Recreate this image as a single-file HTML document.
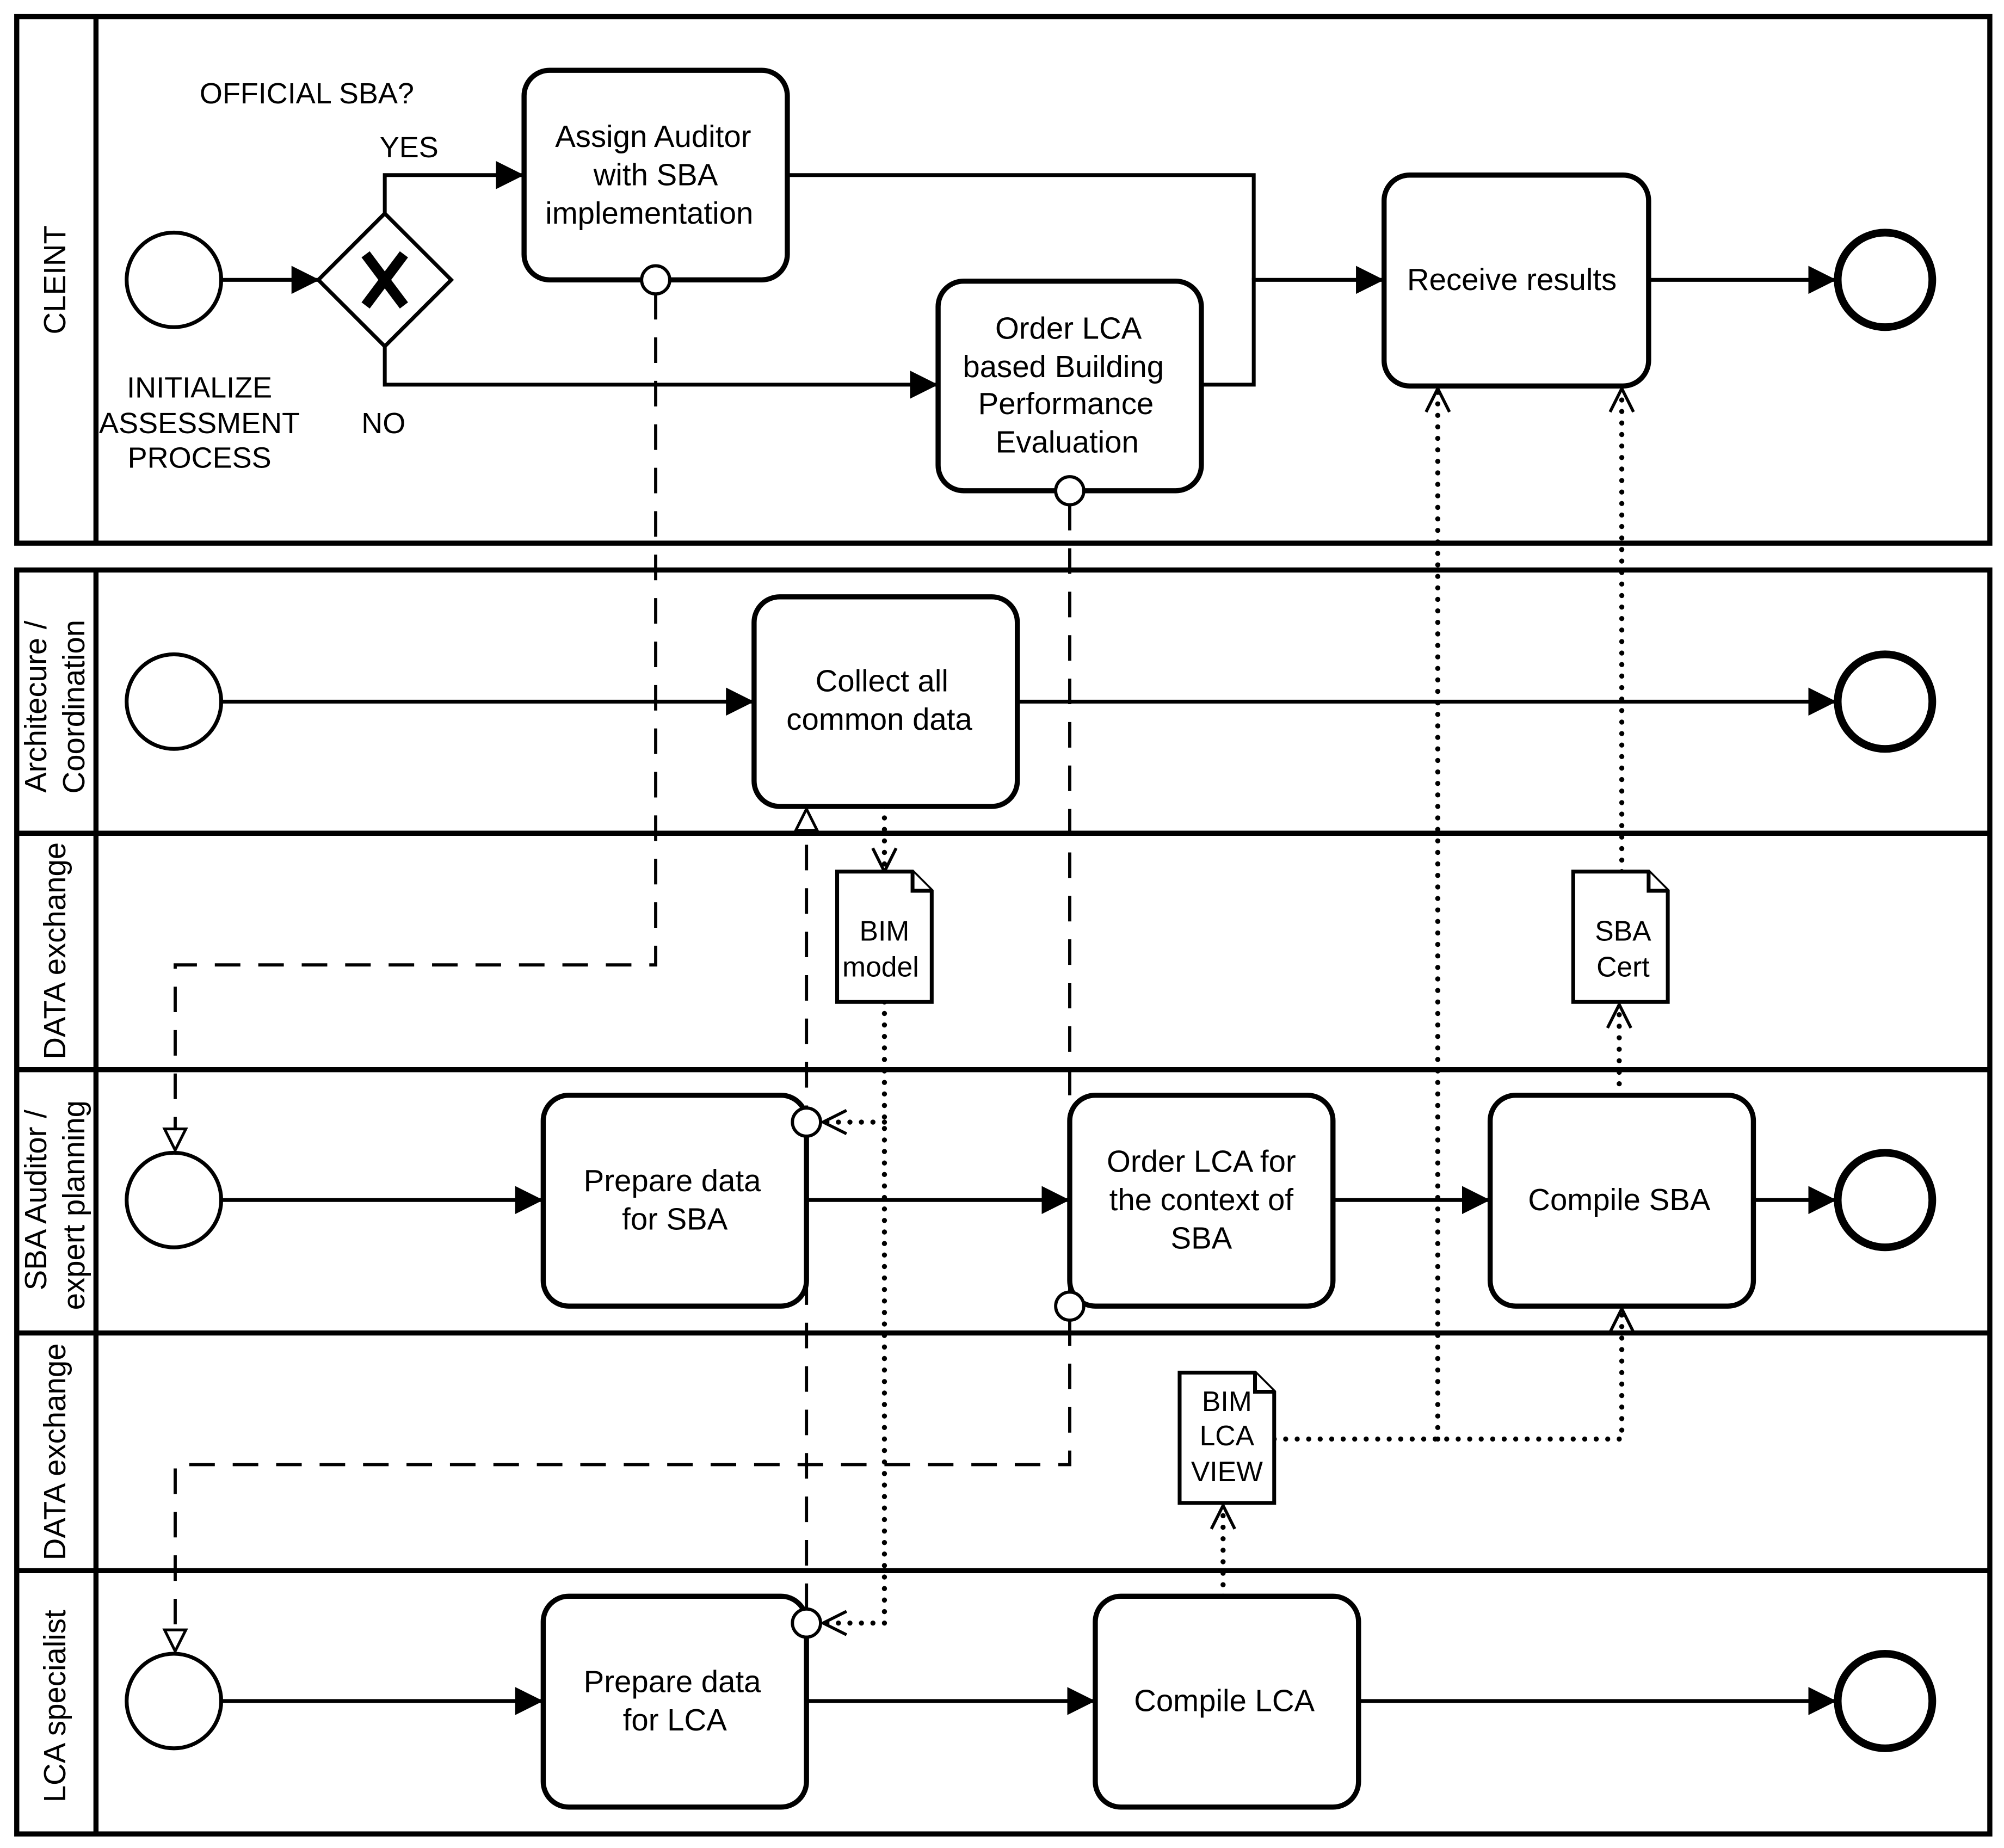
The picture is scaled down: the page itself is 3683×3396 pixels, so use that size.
<!DOCTYPE html>
<html><head><meta charset="utf-8"><style>html,body{margin:0;padding:0;background:#fff}svg{display:block}</style></head>
<body>
<svg width="3683" height="3396" viewBox="0 0 1568 1446" xmlns="http://www.w3.org/2000/svg" font-family="Liberation Sans, sans-serif">
<defs>
<marker id="f" viewBox="0 0 10 10" refX="10" refY="5" markerWidth="22" markerHeight="22" markerUnits="userSpaceOnUse" orient="auto"><path d="M0,0L10,5L0,10z" fill="#000"/></marker>
<marker id="v" viewBox="0 0 12 12" refX="11" refY="6" markerWidth="22" markerHeight="22" markerUnits="userSpaceOnUse" orient="auto"><path d="M1,1L11,6L1,11" fill="none" stroke="#000" stroke-width="1.3"/></marker>
<marker id="t" viewBox="0 0 12 12" refX="11" refY="6" markerWidth="20" markerHeight="20" markerUnits="userSpaceOnUse" orient="auto"><path d="M1,1L11,6L1,11z" fill="#fff" stroke="#000" stroke-width="1.3"/></marker>
</defs>
<g fill="none" stroke="#000">
<rect x="13" y="13" width="1544" height="412" stroke-width="4"/>
<line x1="75" y1="13" x2="75" y2="425" stroke-width="4"/>
<rect x="13" y="446" width="1544" height="989" stroke-width="4"/>
<line x1="75" y1="446" x2="75" y2="1435" stroke-width="4"/>
<g stroke-width="4"><line x1="13" y1="652" x2="1557" y2="652"/><line x1="13" y1="837" x2="1557" y2="837"/><line x1="13" y1="1043" x2="1557" y2="1043"/><line x1="13" y1="1229" x2="1557" y2="1229"/></g>

<g stroke-width="2.5" stroke-dasharray="20,14">
<path d="M513,230V755H137V900" marker-end="url(#t)"/>
<path d="M837,395V1011"/>
<path d="M837,1033V1146H137V1292" marker-end="url(#t)"/>
<path d="M631,1259V633" marker-end="url(#t)"/>
</g>
<g stroke-width="4" stroke-dasharray="0,9" stroke-linecap="round">
<path d="M692,631V682" marker-end="url(#v)"/>
<path d="M692,784V1270H644" marker-end="url(#v)"/>
<path d="M692,878H644" marker-end="url(#v)"/>
<path d="M1267,857V786" marker-end="url(#v)"/>
<path d="M1269,682V304" marker-end="url(#v)"/>
<path d="M997,1126H1269V1024" marker-end="url(#v)"/>
<path d="M1125,1126V304" marker-end="url(#v)"/>
<path d="M957,1249V1178" marker-end="url(#v)"/>
</g>

<g stroke-width="3">
<path d="M173,219H250" marker-end="url(#f)"/>
<path d="M301,167V137H410" marker-end="url(#f)"/>
<path d="M301,271V301H734" marker-end="url(#f)"/>
<path d="M616,137H981V219"/>
<path d="M940,301H981V219H1083" marker-end="url(#f)"/>
<path d="M1290,219H1437" marker-end="url(#f)"/>
<path d="M173,549H590" marker-end="url(#f)"/>
<path d="M796,549H1437" marker-end="url(#f)"/>
<path d="M173,939H425" marker-end="url(#f)"/>
<path d="M631,939H837" marker-end="url(#f)"/>
<path d="M1043,939H1166" marker-end="url(#f)"/>
<path d="M1372,939H1437" marker-end="url(#f)"/>
<path d="M173,1331H425" marker-end="url(#f)"/>
<path d="M631,1331H857" marker-end="url(#f)"/>
<path d="M1063,1331H1437" marker-end="url(#f)"/>
</g>

<g stroke-width="4" fill="#fff">
<rect x="410" y="55" width="206" height="164" rx="20"/>
<rect x="734" y="220" width="206" height="164" rx="20"/>
<rect x="1083" y="137" width="207" height="165" rx="20"/>
<rect x="590" y="467" width="206" height="164" rx="20"/>
<rect x="425" y="857" width="206" height="165" rx="20"/>
<rect x="837" y="857" width="206" height="165" rx="20"/>
<rect x="1166" y="857" width="206" height="165" rx="20"/>
<rect x="425" y="1249" width="206" height="165" rx="20"/>
<rect x="857" y="1249" width="206" height="165" rx="20"/>
</g>
<g stroke-width="2.5" fill="#fff">
<circle cx="513" cy="219" r="11"/><circle cx="837" cy="384" r="11"/>
<circle cx="631" cy="878" r="11"/><circle cx="837" cy="1022" r="11"/><circle cx="631" cy="1270" r="11"/>
</g>
<g stroke-width="3" fill="#fff">
<circle cx="136" cy="219" r="37"/><circle cx="136" cy="549" r="37"/><circle cx="136" cy="939" r="37"/><circle cx="136" cy="1331" r="37"/>
</g>
<g stroke-width="6" fill="#fff">
<circle cx="1475" cy="219" r="37"/><circle cx="1475" cy="549" r="37"/><circle cx="1475" cy="939" r="37"/><circle cx="1475" cy="1331" r="37"/>
</g>
<path d="M301,167L353,219L301,271L249,219z" stroke-width="3" fill="#fff"/>
<path d="M286,199L316,239M316,199L286,239" stroke-width="8"/>
<g stroke-width="3" fill="#fff">
<path d="M655,682H714L729,697V784H655z"/><path d="M714,682V697H729"/>
<path d="M1231,682H1290L1305,697V784H1231z"/><path d="M1290,682V697H1305"/>
<path d="M923,1074H982L997,1089V1176H923z"/><path d="M982,1074V1089H997"/>
</g>
</g>

<g font-size="24" text-anchor="middle" fill="#000">
<text x="240" y="81" font-size="23">OFFICIAL SBA?</text>
<text x="320" y="123" font-size="23">YES</text>
<text x="300" y="339" font-size="23">NO</text>
<g font-size="23"><text x="156" y="311">INITIALIZE</text><text x="156" y="339">ASSESSMENT</text><text x="156" y="366">PROCESS</text></g>
<text x="511" y="115">Assign Auditor</text><text x="513" y="145">with SBA</text><text x="508" y="175">implementation</text>
<text x="836" y="265">Order LCA</text><text x="832" y="295">based Building</text><text x="834" y="324">Performance</text><text x="835" y="354">Evaluation</text>
<text x="1183" y="227">Receive results</text>
<text x="690" y="541">Collect all</text><text x="688" y="571">common data</text>
<text x="526" y="932">Prepare data</text><text x="528" y="962">for SBA</text>
<text x="940" y="917">Order LCA for</text><text x="940" y="947">the context of</text><text x="940" y="977">SBA</text>
<text x="1267" y="947">Compile SBA</text>
<text x="526" y="1324">Prepare data</text><text x="528" y="1354">for LCA</text>
<text x="958" y="1339">Compile LCA</text>
<g font-size="22">
<text x="692" y="736">BIM</text><text x="689" y="764">model</text>
<text x="1270" y="736">SBA</text><text x="1270" y="764">Cert</text>
<text x="960" y="1104">BIM</text><text x="960" y="1131">LCA</text><text x="960" y="1159">VIEW</text>
</g>
<text transform="translate(51,219) rotate(-90)">CLEINT</text>
<text transform="translate(36,553) rotate(-90)">Architecure /</text>
<text transform="translate(66,553) rotate(-90)">Coordination</text>
<text transform="translate(51,744) rotate(-90)">DATA exchange</text>
<text transform="translate(36,939) rotate(-90)">SBA Auditor /</text>
<text transform="translate(66,943) rotate(-90)">expert planning</text>
<text transform="translate(51,1136) rotate(-90)">DATA exchange</text>
<text transform="translate(51,1335) rotate(-90)">LCA specialist</text>
</g>
</svg>
</body></html>
